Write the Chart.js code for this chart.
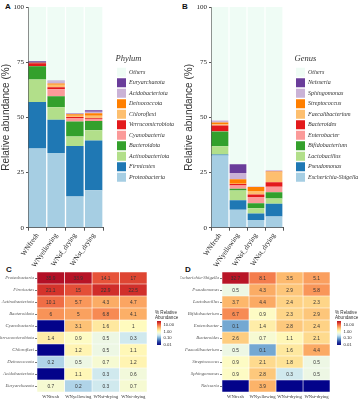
<!DOCTYPE html>
<html><head><meta charset="utf-8">
<script src="https://cdn.jsdelivr.net/npm/chart.js@4.4.1/dist/chart.umd.min.js"></script>
<style>
html,body{margin:0;padding:0;background:#fff}
body{width:361px;height:400px;overflow:hidden;position:relative;font-family:"Liberation Sans",Arial,sans-serif}
.pane{position:absolute}
.tag{position:absolute;font-weight:bold;font-size:8px;color:#111;line-height:8px}
.cbt{position:absolute;font-size:4.6px;line-height:5px;color:#333;white-space:nowrap}
.cbbar{position:absolute;width:4.5px}
.cbl{position:absolute;font-size:4.2px;line-height:4px;color:#333;white-space:nowrap}
</style></head><body>
<div class="tag" style="left:5px;top:3px">A</div>
<div class="tag" style="left:182px;top:3px">B</div>
<div class="tag" style="left:6px;top:266px">C</div>
<div class="tag" style="left:185px;top:266px">D</div>
<canvas id="cA" class="pane" width="180" height="270" style="left:0;top:0"></canvas>
<canvas id="cB" class="pane" width="178" height="270" style="left:183px;top:0"></canvas>
<canvas id="cC" class="pane" width="150" height="135" style="left:0;top:265px"></canvas>
<canvas id="cD" class="pane" width="153" height="135" style="left:180px;top:265px"></canvas>
<div id="cbC"></div><div id="cbD"></div>
<script>
// ---------- data ----------
const samples = ['WNfresh', 'WNyellowing', 'WNsf_drying', 'WNst_drying'];
const heatSamples = ['WNfresh', 'WNyellowing', 'WNsf-drying', 'WNst-drying'];

const phyla = ['Proteobacteria', 'Firmicutes', 'Actinobacteriota', 'Bacteroidota', 'Cyanobacteria',
  'Verrucomicrobiota', 'Chloroflexi', 'Deinococcota', 'Acidobacteriota', 'Euryarchaeota'];
const proteobacteria    = [35.9, 33.9, 14.1, 17];
const firmicutes        = [21.1, 15, 22.9, 22.5];
const actinobacteriota  = [10.1, 5.7, 4.3, 4.7];
const bacteroidota      = [6, 5, 6.8, 4.1];
const cyanobacteria     = [0, 3.1, 1.6, 1];
const verrucomicrobiota = [1.4, 0.9, 0.5, 0.3];
const chloroflexi       = [0, 1.2, 0.5, 1.1];
const deinococcota      = [0.2, 0.5, 0.7, 1.2];
const acidobacteriota   = [0, 1.1, 0.3, 0.6];
const euryarchaeota     = [0.7, 0.2, 0.3, 0.7];
const phylumRows = [proteobacteria, firmicutes, actinobacteriota, bacteroidota, cyanobacteria,
  verrucomicrobiota, chloroflexi, deinococcota, acidobacteriota, euryarchaeota];

const genera = ['Escherichia-Shigella', 'Pseudomonas', 'Lactobacillus', 'Bifidobacterium', 'Enterobacter',
  'Bacteroides', 'Faecalibacterium', 'Streptococcus', 'Sphingomonas', 'Neisseria'];
const escherichiaShigella = [32.7, 8.1, 3.5, 5.1];
const pseudomonas         = [0.5, 4.3, 2.9, 5.8];
const lactobacillus       = [3.7, 4.4, 2.4, 2.3];
const bifidobacterium     = [6.7, 0.9, 2.3, 2.9];
const enterobacter        = [0.1, 1.4, 2.8, 2.4];
const bacteroides         = [2.6, 0.7, 1.1, 2.1];
const faecalibacterium    = [0.5, 0.1, 1.6, 4.4];
const streptococcus       = [0.9, 2.1, 1.8, 0.5];
const sphingomonas        = [0.9, 2.8, 0.3, 0.5];
const neisseria           = [0, 3.9, 0, 0];
const genusRows = [escherichiaShigella, pseudomonas, lactobacillus, bifidobacterium, enterobacter,
  bacteroides, faecalibacterium, streptococcus, sphingomonas, neisseria];

const yTicks = [0, 25, 50, 75, 100];
const colorbarTicks = [10, 1, 0.1, 0.01];

// ---------- style ----------
const SERIF = '"Liberation Serif","Times New Roman",serif';
const SANS = '"Liberation Sans",Arial,sans-serif';
const paired = ['#a6cee3', '#1f78b4', '#b2df8a', '#33a02c', '#fb9a99', '#e31a1c', '#fdbf6f', '#ff7f00', '#cab2d6', '#6a3d9a'];
const othersColor = '#effcf5';
const LOGMIN = Math.log10(0.01), LOGMAX = Math.log10(36);
const stops = [[0, '#0b0b87'], [0.12, '#23399c'], [0.22, '#4d7fbd'], [0.30, '#80b4d8'], [0.40, '#c9e5f0'],
  [0.48, '#eef8e4'], [0.56, '#fffcbf'], [0.64, '#fee194'], [0.72, '#fdb86c'], [0.80, '#f78852'],
  [0.88, '#e9573a'], [0.94, '#d2302a'], [1, '#b30f26']];
const naColor = '#03038a';
function hex(c) { return [1, 3, 5].map(i => parseInt(c.substr(i, 2), 16)); }
function gradColor(t) {
  t = Math.max(0, Math.min(1, t));
  for (let i = 1; i < stops.length; i++) {
    if (t <= stops[i][0]) {
      const [t0, c0] = stops[i - 1], [t1, c1] = stops[i];
      const f = (t - t0) / (t1 - t0), a = hex(c0), b = hex(c1);
      return 'rgb(' + a.map((v, k) => Math.round(v + (b[k] - v) * f)).join(',') + ')';
    }
  }
  return stops[stops.length - 1][1];
}
function tOf(v) { return (Math.log10(v) - LOGMIN) / (LOGMAX - LOGMIN); }
function colorFor(v) { return v > 0 ? gradColor(tOf(v)) : naColor; }

// ---------- stacked bars ----------
function stackChart(id, taxa, rows, title, gap, legendW) {
  const datasets = taxa.map((name, i) => ({
    label: name, data: rows[i], backgroundColor: paired[i], borderWidth: 0,
    barPercentage: 0.93, categoryPercentage: 1
  }));
  const others = samples.map((_, j) => +(100 - rows.reduce((s, r) => s + r[j], 0)).toFixed(2));
  datasets.push({ label: 'Others', data: others, backgroundColor: othersColor, borderWidth: 0,
    barPercentage: 0.93, categoryPercentage: 1 });
  new Chart(document.getElementById(id), {
    type: 'bar',
    data: { labels: samples, datasets },
    options: {
      responsive: false, animation: false, devicePixelRatio: 1,
      layout: { padding: { top: 7, right: 0, left: 0, bottom: 0 } },
      plugins: {
        tooltip: { enabled: false },
        legend: {
          position: 'right', reverse: true, align: 'start', maxWidth: legendW,
          title: { display: true, text: title, position: 'start', color: '#333',
            font: { family: SERIF, style: 'italic', size: 8.5 }, padding: { top: 48, bottom: 1 } },
          labels: { boxWidth: 9, boxHeight: 9, padding: 1.5, color: '#333',
            font: { family: SERIF, style: 'italic', size: 6 } }
        }
      },
      scales: {
        x: {
          stacked: true,
          grid: { display: true, drawOnChartArea: false, tickLength: 3, color: '#555' },
          border: { color: '#555', width: 1 },
          ticks: { minRotation: 55, maxRotation: 55, padding: 1, color: '#222',
            font: { family: SERIF, size: 7 } }
        },
        y: {
          stacked: true, min: 0, max: 100,
          afterBuildTicks: s => { s.ticks = yTicks.map(v => ({ value: v })); },
          afterFit: s => { s.width = 28; },
          grid: { display: true, drawOnChartArea: false, tickLength: 2, color: '#555' },
          border: { color: '#555', width: 1 },
          ticks: { color: '#222', padding: 2, font: { family: SERIF, size: 7 } },
          title: { display: true, text: 'Relative abundance (%)', color: '#333', padding: 0,
            font: { family: SANS, size: 10 } }
        },
        gapRight: {
          type: 'linear', position: 'right', display: true,
          afterFit: s => { s.width = gap; },
          grid: { display: false, drawTicks: false }, border: { display: false }, ticks: { display: false }
        }
      }
    }
  });
}
stackChart('cA', phyla, phylumRows, 'Phylum', 12.5, 64.5);
stackChart('cB', genera, genusRows, 'Genus', 11.5, 66.5);

// ---------- heatmaps ----------
const cellText = {
  id: 'cellText',
  afterDatasetsDraw(chart) {
    const ctx = chart.ctx;
    ctx.save();
    ctx.font = '4.8px ' + SANS;
    ctx.fillStyle = '#333';
    ctx.textAlign = 'center';
    ctx.textBaseline = 'middle';
    chart.data.datasets.forEach((ds, di) => {
      chart.getDatasetMeta(di).data.forEach((el, i) => {
        const v = ds.values[i];
        if (!(v > 0)) return;
        const p = el.getCenterPoint();
        ctx.fillText(String(v), p.x, p.y + 0.3);
      });
    });
    ctx.restore();
  }
};
function heatChart(id, taxa, rows, yWidth) {
  const datasets = heatSamples.map((s, j) => ({
    label: s,
    data: rows.map(() => [j, j + 1]),
    values: rows.map(r => r[j]),
    backgroundColor: rows.map(r => colorFor(r[j])),
    borderColor: '#ffffff', borderWidth: 0.6, borderSkipped: false,
    barPercentage: 1, categoryPercentage: 1, grouped: false
  }));
  new Chart(document.getElementById(id), {
    type: 'bar',
    data: { labels: taxa, datasets },
    plugins: [cellText],
    options: {
      indexAxis: 'y', responsive: false, animation: false, devicePixelRatio: 1,
      layout: { padding: { top: 7, right: 3, left: 0, bottom: 0 } },
      plugins: { legend: { display: false }, tooltip: { enabled: false } },
      scales: {
        x: { type: 'linear', min: 0, max: 4, display: false },
        cols: {
          type: 'category', labels: heatSamples, position: 'bottom', offset: true, axis: 'x',
          afterFit: s => { s.height = 8; },
          grid: { display: false, drawTicks: false, tickLength: 0 }, border: { display: false },
          ticks: { autoSkip: false, maxRotation: 0, padding: 2, color: '#333',
            font: { family: SERIF, size: 4.6 } }
        },
        y: {
          type: 'category', offset: true,
          afterFit: s => { s.width = yWidth; },
          grid: { display: true, drawOnChartArea: false, offset: false, tickLength: 2, color: '#777' },
          border: { display: false },
          ticks: { color: '#555', padding: 1, font: { family: SERIF, style: 'italic', size: 4.8 } }
        }
      }
    }
  });
}
heatChart('cC', phyla, phylumRows, 37);
heatChart('cD', genera, genusRows, 42);

// ---------- colour bars ----------
function colorbar(hostId, left) {
  const host = document.getElementById(hostId);
  const top = 321, h = 24;
  let grad = [];
  for (let k = 0; k <= 20; k++) grad.push(gradColor(k / 20) + ' ' + (k * 5) + '%');
  host.innerHTML =
    '<div class="cbt" style="left:' + (left - 1.5) + 'px;top:310px">% Relative<br>Abundance</div>' +
    '<div class="cbbar" style="left:' + left + 'px;top:' + top + 'px;height:' + h + 'px;background:linear-gradient(to top,' + grad.join(',') + ')"></div>' +
    colorbarTicks.map(v => {
      const y = top + h - tOf(v) * h;
      return '<div class="cbl" style="left:' + (left + 7) + 'px;top:' + (y - 2) + 'px">' + v.toFixed(2) + '</div>';
    }).join('');
}
colorbar('cbC', 156.5);
colorbar('cbD', 336.5);
</script>
</body></html>
